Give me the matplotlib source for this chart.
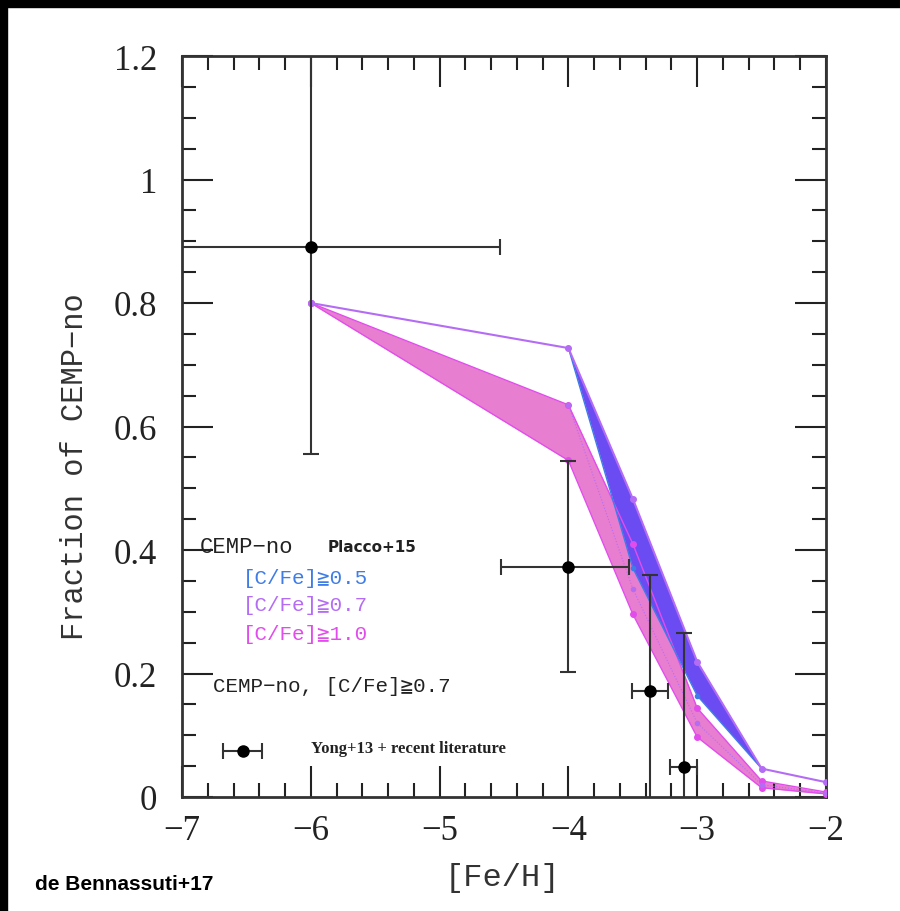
import matplotlib
matplotlib.use('Agg')
import matplotlib.pyplot as plt
import matplotlib.patches as mpatches
from matplotlib.ticker import MultipleLocator
import numpy as np

# model grid in [Fe/H]
feh = [-6.0, -4.0, -3.5, -3.0, -2.5, -2.0]
# [C/Fe]>=0.7 upper envelope (violet line)
frac_violet = [0.80, 0.727, 0.483, 0.219, 0.046, 0.024]
# [C/Fe]>=0.5 lower edge of blue band
feh_blue = [-4.0, -3.5, -3.0, -2.5]
frac_blue = [0.727, 0.371, 0.164, 0.046]
frac_blue_top = [0.727, 0.483, 0.219, 0.046]
# [C/Fe]>=1.0 pink band
frac_pink_hi = [0.80, 0.635, 0.41, 0.144, 0.026, 0.008]
frac_pink_lo = [0.80, 0.545, 0.296, 0.097, 0.015, 0.005]
# inner violet line inside the pink band
feh_mid = [-4.0, -3.5, -3.0, -2.5, -2.0]
frac_mid = [0.635, 0.337, 0.12, 0.02, 0.006]

# observed CEMP-no fractions (Yong+13 + literature)
obs_feh = [-6.0, -4.0, -3.37, -3.1]
obs_frac = [0.89, 0.372, 0.172, 0.049]
obs_xlo = [1.2, 0.52, 0.14, 0.11]
obs_xhi = [1.47, 0.47, 0.14, 0.10]
obs_ylo = [0.335, 0.17, 0.20, 0.07]
obs_yhi = [0.40, 0.172, 0.188, 0.217]

c_blue = '#3f7ce6'
c_violet = '#b56cf5'
c_magenta = '#e24cec'
c_pinkfill = '#e87ecf'
c_bluefill = '#6a4cf2'

fig = plt.figure(figsize=(9, 9.12), dpi=100)
ax = fig.add_axes([0.2022, 0.125, 0.7156, 0.8125])

# bands
ax.fill_between(feh, frac_pink_lo, frac_pink_hi, color=c_pinkfill, lw=0, zorder=1)
ax.fill_between(feh_blue, frac_blue, frac_blue_top, color=c_bluefill, lw=0, zorder=2)
ax.plot(feh, frac_pink_hi, '-o', color=c_magenta, lw=1, ms=4, zorder=3)
ax.plot(feh, frac_pink_lo, '-o', color=c_magenta, lw=1, ms=4, zorder=3)
ax.plot(feh_mid, frac_mid, ':o', color=c_violet, lw=0.8, ms=3, zorder=3)
ax.plot(feh_blue, frac_blue, '-o', color=c_blue, lw=1, ms=3, zorder=3)
ax.plot(feh, frac_violet, '-o', color=c_violet, lw=1.5, ms=4, zorder=3)

# observations
ax.errorbar(obs_feh, obs_frac, xerr=[obs_xlo, obs_xhi], yerr=[obs_ylo, obs_yhi],
            fmt='o', color='black', ecolor='#333333', ms=8, elinewidth=1.5,
            capsize=6, capthick=1.5, zorder=5, clip_on=True)

# legend-like annotations
ax.errorbar([-6.53], [0.075], xerr=[[0.15], [0.15]], fmt='o', color='black',
            ecolor='#333333', ms=8, elinewidth=1.5, capsize=6, capthick=1.5, zorder=5)
mono = ['Liberation Mono', 'DejaVu Sans Mono']
ax.text(-6.86, 0.405, 'CEMP\u2212no', family=mono, fontsize=16, va='center', color='#222222')
ax.text(-5.87, 0.405, 'Placco+15', family=['Liberation Sans Narrow', 'DejaVu Sans'],
        fontsize=11, fontweight='bold', va='center', color='#222222')
ax.text(-6.53, 0.356, '[C/Fe]\u22670.5', family=mono, fontsize=15, va='center', color=c_blue)
ax.text(-6.53, 0.311, '[C/Fe]\u22670.7', family=mono, fontsize=15, va='center', color=c_violet)
ax.text(-6.53, 0.264, '[C/Fe]\u22671.0', family=mono, fontsize=15, va='center', color=c_magenta)
ax.text(-6.76, 0.18, 'CEMP\u2212no, [C/Fe]\u22670.7', family=mono, fontsize=15, va='center',
        color='#222222')
ax.text(-6.0, 0.08, 'Yong+13 + recent literature', family=['Liberation Serif', 'DejaVu Serif'],
        fontsize=12, fontweight='bold', va='center', color='#222222')

ax.set_xlim(-7, -2)
ax.set_ylim(0, 1.2)
ax.xaxis.set_major_locator(MultipleLocator(1))
ax.xaxis.set_minor_locator(MultipleLocator(0.2))
ax.yaxis.set_major_locator(MultipleLocator(0.2))
ax.yaxis.set_minor_locator(MultipleLocator(0.05))
ax.tick_params(which='both', direction='in', top=True, right=True, width=1.5, colors='#222222')
ax.tick_params(which='major', length=22)
ax.tick_params(which='minor', length=10)
ax.tick_params(axis='x', which='major', pad=12)
ax.tick_params(axis='y', which='major', pad=18)
ax.set_xticks([-7, -6, -5, -4, -3, -2])
ax.set_xticklabels(['\u22127', '\u22126', '\u22125', '\u22124', '\u22123', '\u22122'])
ax.set_yticks([0, 0.2, 0.4, 0.6, 0.8, 1.0, 1.2])
ax.set_yticklabels(['0', '0.2', '0.4', '0.6', '0.8', '1', '1.2'])
for lab in ax.get_xticklabels() + ax.get_yticklabels():
    lab.set_family(['Liberation Serif', 'DejaVu Serif'])
    lab.set_fontsize(25)
    lab.set_color('#222222')
for sp in ax.spines.values():
    sp.set_linewidth(2)
    sp.set_color('#333333')

ax.set_ylabel('Fraction of CEMP\u2212no', family=mono, fontsize=22, color='#333333')
ax.yaxis.set_label_coords(-0.143, 0.447)
ax.set_xlabel('[Fe/H]', family=mono, fontsize=23, color='#333333')
ax.xaxis.set_label_coords(0.497, -0.088)

fig.text(0.039, 0.03, 'de Bennassuti+17', family=['Liberation Sans', 'DejaVu Sans'],
         fontsize=15, fontweight='bold', va='center')

# black frame strips at top and left
fig.patches.append(mpatches.Rectangle((0, 0.991), 1, 0.009, transform=fig.transFigure,
                                      color='black', zorder=10))
fig.patches.append(mpatches.Rectangle((0, 0), 0.008, 1, transform=fig.transFigure,
                                      color='black', zorder=10))

fig.savefig('out.png', dpi=100)
